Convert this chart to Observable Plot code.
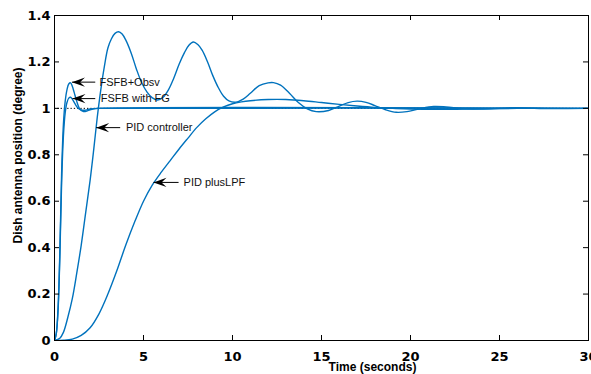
<!DOCTYPE html>
<html>
<head>
<meta charset="utf-8">
<script src="https://cdn.jsdelivr.net/npm/d3@7"></script>
<script src="https://cdn.jsdelivr.net/npm/@observablehq/plot@0.6"></script>
<style>
  html, body { margin: 0; padding: 0; background: #fff; }
  #chart svg { display: block; }
</style>
</head>
<body>
<div id="chart"></div>
<script>
// ---- data ----
const xTicks = [0, 5, 10, 15, 20, 25, 30];
const yTicks = [0, 0.2, 0.4, 0.6, 0.8, 1, 1.2, 1.4];
const yTickLabels = ["0", "0.2", "0.4", "0.6", "0.8", "1", "1.2", "1.4"];

// PID controller
const tPID = [0, 0.3, 0.5, 0.75, 1.0, 1.25, 1.5, 1.75, 2.0, 2.2, 2.4, 2.6, 2.8, 3.0, 3.2, 3.4, 3.6, 3.8, 4.0, 4.3, 4.6, 4.9, 5.2, 5.5, 5.8, 6.1, 6.4, 6.7, 7.0, 7.3, 7.55, 7.8, 8.05, 8.3, 8.6, 8.9, 9.2, 9.5, 9.8, 10.2, 10.6, 11.0, 11.5, 12.0, 12.3, 12.7, 13.2, 13.7, 14.2, 14.7, 15.4, 16.0, 16.5, 17.0, 17.5, 18.0, 18.6, 19.2, 19.8, 20.5, 21.3, 22.0, 22.8, 23.5, 24.5, 25.5, 26.5, 27.5, 30];
const vPID = [0, 0.01, 0.035, 0.1, 0.18, 0.29, 0.41, 0.55, 0.69, 0.82, 0.96, 1.08, 1.18, 1.26, 1.30, 1.323, 1.33, 1.32, 1.295, 1.24, 1.17, 1.11, 1.07, 1.045, 1.036, 1.048, 1.08, 1.13, 1.19, 1.24, 1.272, 1.286, 1.275, 1.25, 1.2, 1.14, 1.09, 1.052, 1.032, 1.027, 1.04, 1.065, 1.098, 1.11, 1.111, 1.1, 1.065, 1.025, 0.998, 0.986, 0.991, 1.01, 1.025, 1.031, 1.026, 1.012, 0.994, 0.983, 0.986, 0.998, 1.008, 1.006, 1.0, 0.997, 0.998, 1.002, 1.002, 0.999, 1.0];

// PID plus LPF
const tLPF = [0, 0.5, 1.0, 1.5, 2.0, 2.5, 3.0, 3.5, 4.0, 4.5, 5.0, 5.5, 6.0, 6.5, 7.0, 7.5, 8.0, 8.5, 9.0, 9.5, 10.0, 10.5, 11.0, 12.0, 13.0, 14.0, 15.0, 16.0, 17.0, 18.0, 19.0, 20.0, 22.0, 24.0, 26.0, 28.0, 30.0];
const vLPF = [0, 0.001, 0.006, 0.022, 0.055, 0.115, 0.2, 0.3, 0.41, 0.51, 0.6, 0.67, 0.725, 0.775, 0.825, 0.872, 0.918, 0.955, 0.985, 1.006, 1.02, 1.028, 1.033, 1.038, 1.038, 1.033, 1.025, 1.017, 1.01, 1.004, 1.0, 0.997, 0.996, 0.998, 1.0, 1.0, 1.0];

// FSFB + Observer
const tObs = [0, 0.1, 0.2, 0.3, 0.4, 0.5, 0.6, 0.7, 0.8, 0.9, 1.0, 1.1, 1.25, 1.4, 1.6, 1.8, 2.0, 2.3, 2.7, 30];
const vObs = [0, 0.03, 0.14, 0.38, 0.72, 0.93, 1.03, 1.08, 1.105, 1.11, 1.095, 1.07, 1.03, 1.0, 0.987, 0.988, 0.994, 0.999, 1.0, 1.0];

// FSFB with FG
const tFG = [0, 0.1, 0.2, 0.3, 0.4, 0.5, 0.6, 0.7, 0.8, 0.9, 1.0, 1.15, 1.3, 1.5, 1.7, 2.0, 2.4, 30];
const vFG = [0, 0.03, 0.13, 0.36, 0.68, 0.88, 0.98, 1.025, 1.044, 1.048, 1.04, 1.02, 1.003, 0.993, 0.992, 0.997, 1.0, 1.0];

// annotations: label, arrow tip (t, v), arrow tail t, label start t
const annLabels = ["FSFB+Obsv", "FSFB with FG", "PID controller", "PID plusLPF"];
const annTipT = [0.98, 1.01, 2.34, 5.56];
const annTipV = [1.113, 1.042, 0.917, 0.681];
const annTailT = [2.29, 2.29, 3.69, 6.97];
const annTextT = [2.53, 2.6, 4.01, 7.25];

// ---- build tables ----
const mk = (name, ts, vs) => ts.map((t, i) => ({name, t, v: vs[i]}));
const lines = [
  ...mk("PID controller", tPID, vPID),
  ...mk("PID plusLPF", tLPF, vLPF),
  ...mk("FSFB+Obsv", tObs, vObs),
  ...mk("FSFB with FG", tFG, vFG)
];
const anns = annLabels.map((label, i) => ({label, tt: annTipT[i], tv: annTipV[i], t2: annTailT[i], tx: annTextT[i]}));

const W = 591, H = 374;
const mL = 54, mR = 3, mT = 15, mB = 34;
const pw = W - mL - mR, ph = H - mT - mB;
const blue = "#0072BD";

const arrowHead = {
  draw(ctx, size) {
    const L = 13, Wd = 4.6;
    ctx.moveTo(0, 0);
    ctx.lineTo(L, -Wd);
    ctx.lineTo(L * 0.62, 0);
    ctx.lineTo(L, Wd);
    ctx.closePath();
  }
};

const chart = Plot.plot({
  width: W,
  height: H,
  marginLeft: mL,
  marginRight: mR,
  marginTop: mT,
  marginBottom: mB,
  style: {background: "#fff", overflow: "hidden"},
  x: {domain: [0, 30]},
  y: {domain: [0, 1.4]},
  marks: [
    Plot.ruleY([1], {stroke: "#000", strokeWidth: 1, strokeDasharray: "1.3,2"}),
    Plot.line(lines, {x: "t", y: "v", z: "name", stroke: blue, strokeWidth: 1.4, curve: "catmull-rom", clip: true}),
    Plot.frame({stroke: "#000", strokeWidth: 1}),
    // inward ticks on all four sides
    Plot.ruleX(xTicks, {stroke: "#000", insetTop: ph - 5}),
    Plot.ruleX(xTicks, {stroke: "#000", insetBottom: ph - 5}),
    Plot.ruleY(yTicks, {stroke: "#000", insetRight: pw - 5}),
    Plot.ruleY(yTicks, {stroke: "#000", insetLeft: pw - 5}),
    Plot.axisX(xTicks, {tickSize: 0, tickPadding: 11, fontSize: 13, fontWeight: "bold", fontFamily: "DejaVu Sans", fill: "#000", label: null}),
    Plot.axisY(yTicks, {tickSize: 0, tickPadding: 4, fontSize: 13, fontWeight: "bold", fontFamily: "DejaVu Sans", fill: "#000", label: null, tickFormat: (d, i) => yTickLabels[i]}),
    // annotations
    Plot.link(anns, {x1: "tt", y1: "tv", x2: "t2", y2: "tv", stroke: "#000", strokeWidth: 1}),
    Plot.dot(anns, {x: "tt", y: "tv", symbol: arrowHead, fill: "#000", stroke: "none", r: 5}),
    Plot.text(anns, {x: "tx", y: "tv", text: "label", textAnchor: "start", fontSize: 11, fontFamily: "Liberation Sans, Arial, sans-serif", fill: "#111"}),
    // axis titles
    Plot.text(["Time (seconds)"], {frameAnchor: "bottom", textAnchor: "middle", lineAnchor: "middle", dx: 51, dy: 27, fontSize: 12, fontWeight: "bold", fontFamily: "Liberation Sans, Arial, sans-serif", fill: "#000"}),
    Plot.text(["Dish antenna position (degree)"], {frameAnchor: "left", textAnchor: "middle", lineAnchor: "middle", rotate: -90, dx: -36, dy: -22.5, fontSize: 12, fontWeight: "bold", fontFamily: "Liberation Sans, Arial, sans-serif", fill: "#000"})
  ]
});
document.getElementById("chart").appendChild(chart);
</script>
</body>
</html>
